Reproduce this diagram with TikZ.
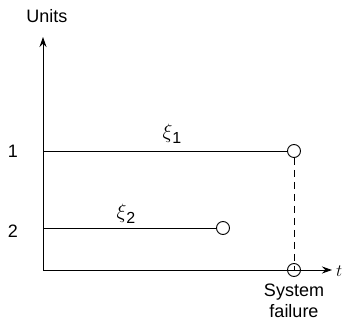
\documentclass[tikz,border=0pt]{standalone}
\usepackage{fontspec}
\setmainfont{Liberation Sans}
\usetikzlibrary{arrows.meta,positioning}

\newcommand{\unitlabel}[1]{{\fontsize{22}{24}\selectfont$\xi$}\raisebox{-5pt}{\fontsize{16}{18}\selectfont #1}}

\begin{document}
\begin{tikzpicture}[x=1pt, y=1pt,
        every node/.style={font=\fontsize{18}{21}\selectfont},
        unit/.style={circle, draw=black, line width=0.9pt, fill=white, minimum size=13pt, inner sep=0pt},
        line/.style={line width=0.9pt},
        arrow/.style={line width=0.9pt, -{Stealth[length=10pt, width=7pt]}},
        dashline/.style={line width=0.9pt, dash pattern=on 7pt off 5pt}
    ]
    \useasboundingbox (0,0) rectangle (345,334);

    % Axes
    \coordinate (origin) at (43,64);
    \coordinate (ytip) at (43,297);
    \coordinate (xtip) at (332,64);
    \draw[arrow] (origin) -- (ytip);
    \node (units) at (47,318) {Units};
    \node[anchor=west, inner sep=1pt] (t) at (335,63) {$t$};

    % Unit 1
    \coordinate (start1) at (43,183);
    \node[unit] (end1) at (294,183) {};
    \node (one) at (13,183) {1};
    \node (xi1) at (172,200) {\unitlabel{1}};
    \draw[line] (start1) -- (end1);

    % Unit 2
    \coordinate (start2) at (43,106);
    \node[unit] (end2) at (223,106) {};
    \node (two) at (13,103) {2};
    \node (xi2) at (126,120) {\unitlabel{2}};
    \draw[line] (start2) -- (end2);

    % System failure
    \node[unit, fill=none] (fail) at (294,64) {};
    \draw[dashline] (end1) -- (fail.center);
    \draw[arrow] (origin) -- (xtip);
    \node[align=center, below=3pt of fail] (sys) {System\\failure};

\end{tikzpicture}
\end{document}
